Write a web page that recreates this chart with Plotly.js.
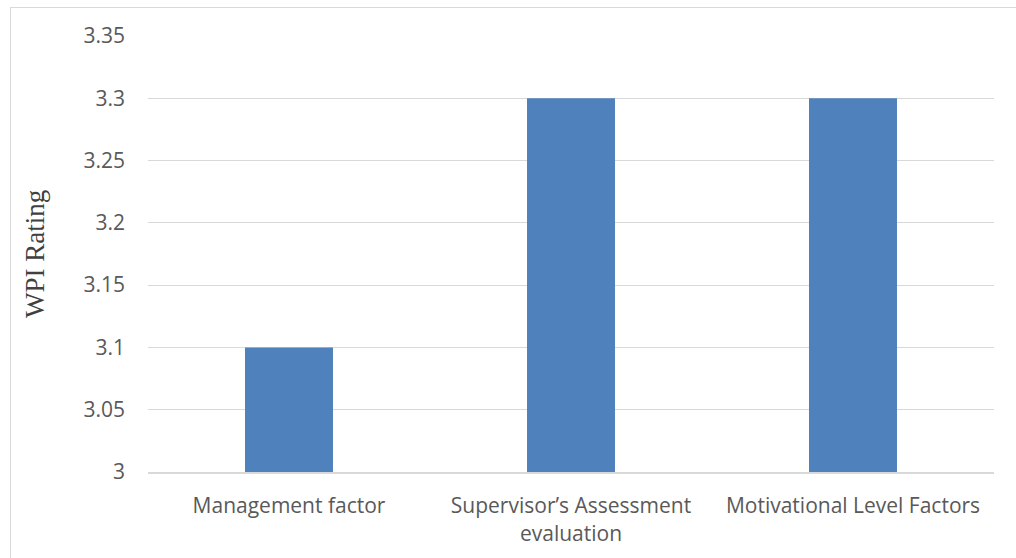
<!DOCTYPE html>
<html><head><meta charset="utf-8">
<script src="https://cdn.plot.ly/plotly-3.0.1.min.js"></script>
<style>
html,body{margin:0;padding:0;background:#fff;}
#wrap{position:relative;width:1016px;height:558px;overflow:hidden;}
#frame{position:absolute;left:10px;top:7px;width:1020px;height:580px;border:1.5px solid #d9d9d9;box-sizing:border-box;pointer-events:none;}
#chart{position:absolute;left:0;top:0;width:1016px;height:558px;}
</style></head>
<body><div id="wrap"><div id="chart"></div><div id="frame"></div></div>
<script>
const categories = ["Management factor", "Supervisor’s Assessment<br>evaluation", "Motivational Level Factors"];
const ratings = [3.1, 3.3, 3.3];
const yTitle = "WPI Rating";

const tickFont = {family: "Open Sans, sans-serif", size: 21, color: "#595959"};

Plotly.newPlot("chart", [{
  type: "bar",
  x: categories,
  y: ratings,
  marker: {color: "#4f81bd"},
  hoverinfo: "skip"
}], {
  width: 1016, height: 558,
  margin: {l: 148, r: 22, t: 36, b: 86},
  paper_bgcolor: "#fff", plot_bgcolor: "#fff",
  bargap: 0.688,
  showlegend: false,
  xaxis: {
    tickfont: tickFont,
    showline: true, linecolor: "#d9d9d9", linewidth: 2,
    showgrid: false, ticks: "", ticklabelstandoff: 14
  },
  yaxis: {
    range: [3, 3.35], dtick: 0.05, tick0: 3,
    tickfont: tickFont,
    showgrid: true, gridcolor: "#d9d9d9", gridwidth: 1,
    zeroline: false, showline: false, ticks: "", ticklabelstandoff: 22
  },
  annotations: [{
    text: yTitle, xref: "paper", yref: "paper",
    x: -(148 - 35) / 846, y: 0.5, textangle: -90, showarrow: false,
    xanchor: "center", yanchor: "middle",
    font: {family: "Liberation Serif, serif", size: 27, color: "#404040"}
  }]
}, {staticPlot: true});
</script></body></html>
